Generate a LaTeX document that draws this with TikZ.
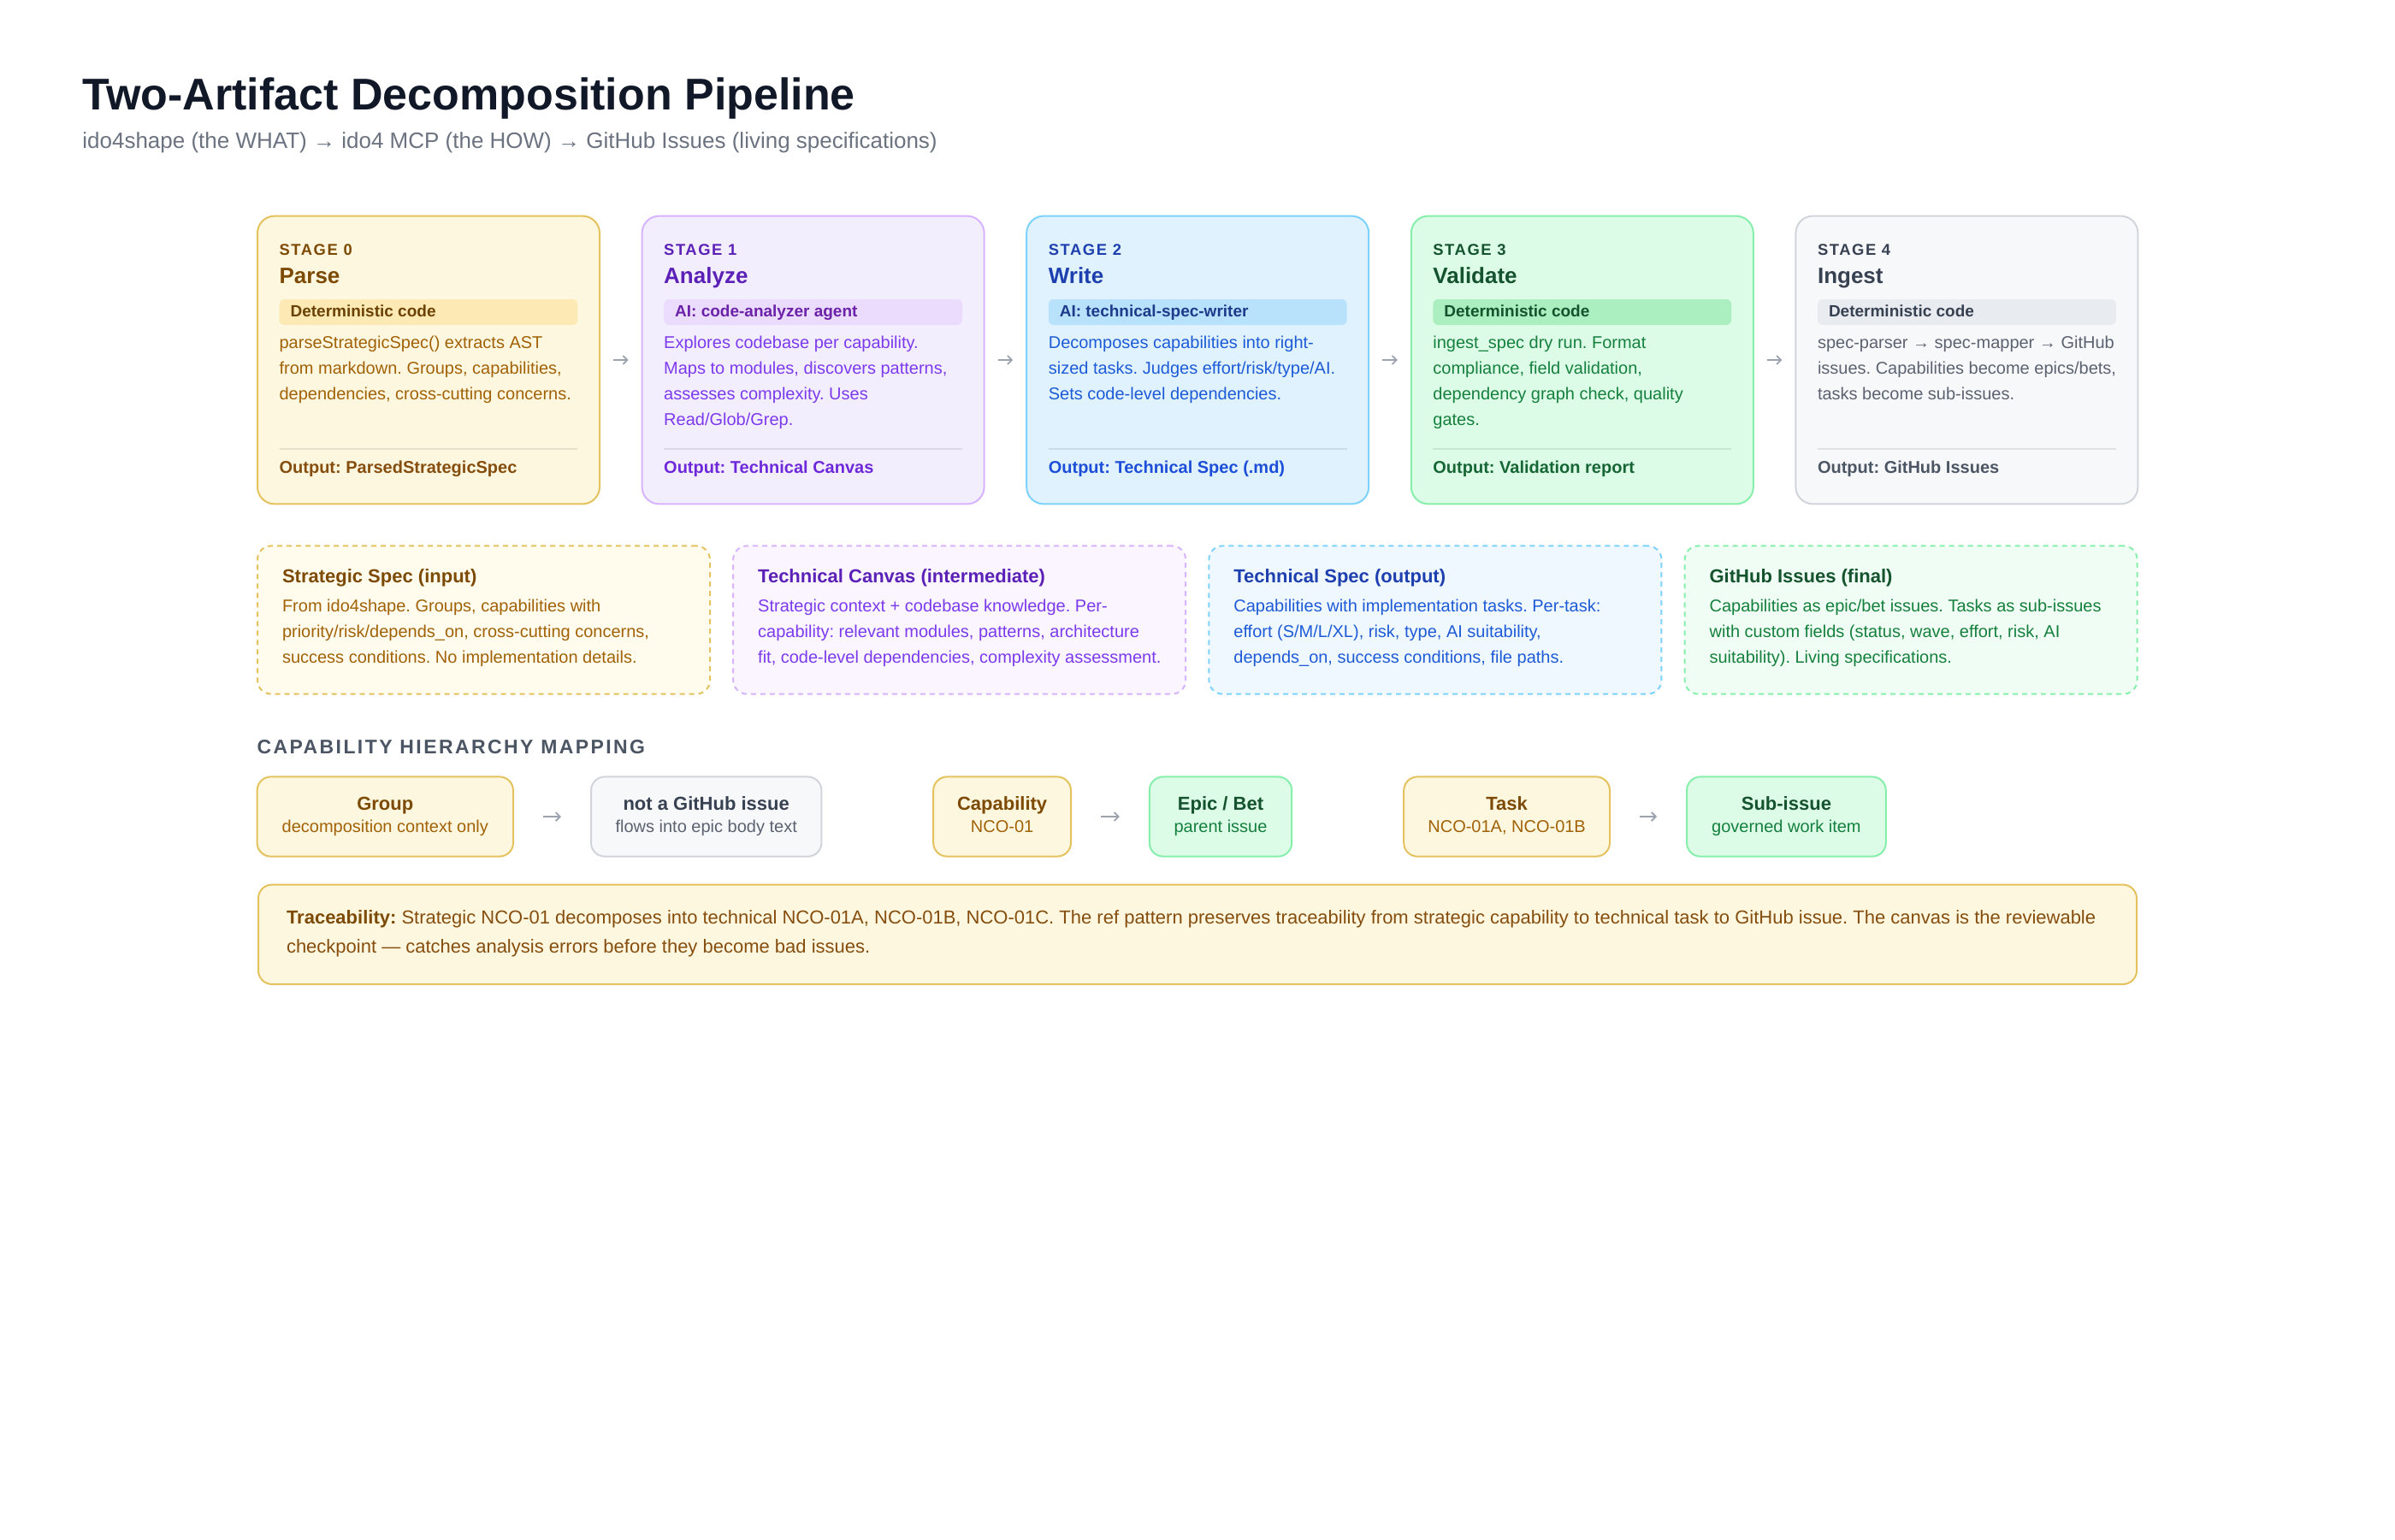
\documentclass[tikz,border=0pt]{standalone}
\usepackage{fontspec}
\setmainfont{Liberation Sans}
\usetikzlibrary{arrows.meta}

\definecolor{Yfill}{HTML}{FEF7DF}\definecolor{Ybd}{HTML}{E4C25E}\definecolor{Ytag}{HTML}{FDE9B3}
\definecolor{Yttl}{HTML}{7C4A03}\definecolor{Ytagt}{HTML}{6B4105}\definecolor{Ybody}{HTML}{A16207}
\definecolor{Yout}{HTML}{854D0E}\definecolor{Yafill}{HTML}{FFFCEE}
\definecolor{Pfill}{HTML}{F3EEFE}\definecolor{Pbd}{HTML}{D8B4FE}\definecolor{Ptag}{HTML}{EBDCFD}
\definecolor{Pttl}{HTML}{5B21B6}\definecolor{Ptagt}{HTML}{6B21A8}\definecolor{Pbody}{HTML}{7C3AED}
\definecolor{Pout}{HTML}{6D28D9}\definecolor{Pafill}{HTML}{FAF5FF}
\definecolor{Bfill}{HTML}{DFF2FE}\definecolor{Bbd}{HTML}{7DD3FC}\definecolor{Btag}{HTML}{B8E2FC}
\definecolor{Bttl}{HTML}{1E40AF}\definecolor{Btagt}{HTML}{1E3A8A}\definecolor{Bbody}{HTML}{1D5BD6}
\definecolor{Bout}{HTML}{1D4ED8}\definecolor{Bafill}{HTML}{F0F8FF}
\definecolor{Gfill}{HTML}{DCFCE7}\definecolor{Gbd}{HTML}{86EFAC}\definecolor{Gtag}{HTML}{ABEEBF}
\definecolor{Gttl}{HTML}{14532D}\definecolor{Gtagt}{HTML}{14532D}\definecolor{Gbody}{HTML}{15803D}
\definecolor{Gout}{HTML}{166534}\definecolor{Gafill}{HTML}{F0FDF4}
\definecolor{Kfill}{HTML}{F7F8FA}\definecolor{Kbd}{HTML}{D1D5DB}\definecolor{Ktag}{HTML}{E8EBEF}
\definecolor{Kttl}{HTML}{374151}\definecolor{Ktagt}{HTML}{374151}\definecolor{Kbody}{HTML}{5B6270}
\definecolor{Kout}{HTML}{4B5563}
\definecolor{titlecol}{HTML}{111827}\definecolor{subcol}{HTML}{6B7280}
\definecolor{seccol}{HTML}{4B5563}\definecolor{arrowgray}{HTML}{9CA3AF}

\newcommand\fTitle{\fontsize{26}{30}\selectfont\bfseries}
\newcommand\fSub{\fontsize{13}{16}\selectfont}
\newcommand\fLab{\fontsize{9.2}{11}\selectfont\bfseries\addfontfeature{LetterSpace=8.5}}
\newcommand\fStT{\fontsize{13}{16}\selectfont\bfseries}
\newcommand\fTag{\fontsize{9.5}{12}\selectfont\bfseries}
\newcommand\fBody{\fontsize{10}{15}\selectfont}
\newcommand\fOut{\fontsize{10}{12}\selectfont\bfseries}
\newcommand\fArtH{\fontsize{11}{13}\selectfont\bfseries}
\newcommand\fSec{\fontsize{11.5}{14}\selectfont\bfseries\addfontfeature{LetterSpace=10.5}}
\newcommand\fHT{\fontsize{11}{13}\selectfont\bfseries}
\newcommand\fHS{\fontsize{10}{12}\selectfont}
\newcommand\fTr{\fontsize{11}{16.7}\selectfont}

\tikzset{
  txt/.style={inner sep=0pt, outer sep=0pt, anchor=base west},
  ctxt/.style={inner sep=0pt, outer sep=0pt, anchor=base},
  stagebox/.style={minimum width=200pt, minimum height=168.4pt, rounded corners=10pt, line width=1pt, inner sep=0pt},
  artbox/.style={minimum width=264.5pt, minimum height=86.6pt, rounded corners=8pt, line width=1pt, dash pattern=on 3pt off 2.5pt, inner sep=0pt},
  hbox/.style={minimum height=46.6pt, rounded corners=8pt, line width=1pt, inner sep=0pt},
  flowarrow/.style={draw=arrowgray, line width=0.9pt, -{Straight Barb[length=2.5pt,width=5pt]}, shorten <=7.5pt, shorten >=7.5pt},
  harrow/.style={draw=arrowgray, line width=0.9pt, -{Straight Barb[length=2.5pt,width=5pt]}, shorten <=17pt, shorten >=17pt},
}

% #1 name, #2 left x, #3 colour prefix, #4 label, #5 title, #6 tag, #7 body lines, #8 output
\newcommand\mkstage[8]{%
  \node[stagebox, draw=#3bd, fill=#3fill] (#1) at (#2+100, 210.5) {};
  \node[txt, text=#3ttl, font=\fLab] (#1-lab) at (#2+12.8, 149.2) {#4};
  \node[txt, text=#3ttl, font=\fStT] (#1-ttl) at (#2+12.8, 165.8) {#5};
  \fill[#3tag, rounded corners=3pt] (#2+12.8, 175) rectangle (#2+187.2, 190);
  \node[txt, text=#3tagt, font=\fTag] (#1-tag) at (#2+19.3, 185) {#6};
  \foreach \ln [count=\k from 0] in {#7} {\node[txt, text=#3body, font=\fBody] (#1-b\k) at (#2+12.8, 203.8+15*\k) {\ln};}
  \draw[black, opacity=0.09, line width=1pt] (#2+12.8, 262.5) -- (#2+187.2, 262.5);
  \node[txt, text=#3out, font=\fOut] (#1-out) at (#2+12.8, 276.7) {#8};
}
% #1 name, #2 left x, #3 colour prefix, #4 heading, #5 lines
\newcommand\mkart[5]{%
  \node[artbox, draw=#3bd, fill=#3afill] (#1) at (#2+132.25, 362.5) {};
  \node[txt, text=#3ttl, font=\fArtH] (#1-h) at (#2+14.5, 340.8) {#4};
  \foreach \ln [count=\k from 0] in {#5} {\node[txt, text=#3body, font=\fBody] (#1-b\k) at (#2+14.5, 357.8+15*\k) {\ln};}
}
% #1 name, #2 left x, #3 width, #4 colour prefix, #5 title, #6 sub
\newcommand\mkh[6]{%
  \node[hbox, draw=#4bd, fill=#4fill, minimum width=#3pt] (#1) at (#2+#3/2, 477.5) {};
  \node[ctxt, text=#4ttl, font=\fHT] (#1-t) at (#2+#3/2, 473.8) {#5};
  \node[ctxt, text=#4body, font=\fHS] (#1-s) at (#2+#3/2, 486.7) {#6};
}

\begin{document}
\frenchspacing
\begin{tikzpicture}[x=1pt, y=-1pt]
\fill[white] (0,0) rectangle (1400,900);
\useasboundingbox (0,0) rectangle (1400,900);

\node[txt, text=titlecol, font=\fTitle] (title) at (48.2, 64.2) {Two-Artifact Decomposition Pipeline};
\node[txt, text=subcol, font=\fSub] (subtitle) at (48.2, 86.7) {ido4shape (the WHAT) → ido4 MCP (the HOW) → GitHub Issues (living specifications)};

\mkstage{s0}{150.5}{Y}{STAGE 0}{Parse}{Deterministic code}%
  {{parseStrategicSpec() extracts AST},{from markdown. Groups, capabilities,},{dependencies, cross-cutting concerns.}}%
  {Output: ParsedStrategicSpec}
\mkstage{s1}{375.3}{P}{STAGE 1}{Analyze}{AI: code-analyzer agent}%
  {{Explores codebase per capability.},{Maps to modules, discovers patterns,},{assesses complexity. Uses},{Read/Glob/Grep.}}%
  {Output: Technical Canvas}
\mkstage{s2}{600.1}{B}{STAGE 2}{Write}{AI: technical-spec-writer}%
  {{Decomposes capabilities into right-},{sized tasks. Judges effort/risk/type/AI.},{Sets code-level dependencies.}}%
  {Output: Technical Spec (.md)}
\mkstage{s3}{824.9}{G}{STAGE 3}{Validate}{Deterministic code}%
  {{ingest\_spec dry run. Format},{compliance, field validation,},{dependency graph check, quality},{gates.}}%
  {Output: Validation report}
\mkstage{s4}{1049.7}{K}{STAGE 4}{Ingest}{Deterministic code}%
  {{spec-parser → spec-mapper → GitHub},{issues. Capabilities become epics/bets,},{tasks become sub-issues.}}%
  {Output: GitHub Issues}

\draw[flowarrow] (s0) -- (s1);
\draw[flowarrow] (s1) -- (s2);
\draw[flowarrow] (s2) -- (s3);
\draw[flowarrow] (s3) -- (s4);

\mkart{a0}{150.5}{Y}{Strategic Spec (input)}%
  {{From ido4shape. Groups, capabilities with},{priority/risk/depends\_on, cross-cutting concerns,},{success conditions. No implementation details.}}
\mkart{a1}{428.6}{P}{Technical Canvas (intermediate)}%
  {{Strategic context + codebase knowledge. Per-},{capability: relevant modules, patterns, architecture},{fit, code-level dependencies, complexity assessment.}}
\mkart{a2}{706.7}{B}{Technical Spec (output)}%
  {{Capabilities with implementation tasks. Per-task:},{effort (S/M/L/XL), risk, type, AI suitability,},{depends\_on, success conditions, file paths.}}
\mkart{a3}{984.8}{G}{GitHub Issues (final)}%
  {{Capabilities as epic/bet issues. Tasks as sub-issues},{with custom fields (status, wave, effort, risk, AI},{suitability). Living specifications.}}

\node[txt, text=seccol, font=\fSec] (sechead) at (150.3, 440.8) {CAPABILITY HIERARCHY MAPPING};

\mkh{h1}{150.3}{149.7}{Y}{Group}{decomposition context only}
\mkh{h2}{345.5}{134.7}{K}{not a GitHub issue}{flows into epic body text}
\mkh{h3}{545.6}{80.4}{Y}{Capability}{NCO-01}
\mkh{h4}{671.9}{83.2}{G}{Epic / Bet}{parent issue}
\mkh{h5}{820.6}{120.4}{Y}{Task}{NCO-01A, NCO-01B}
\mkh{h6}{986}{116.4}{G}{Sub-issue}{governed work item}
\draw[harrow] (h1) -- (h2);
\draw[harrow] (h3) -- (h4);
\draw[harrow] (h5) -- (h6);

\node[draw=Ybd, fill=Yfill, line width=1pt, rounded corners=8pt, minimum width=1098pt, minimum height=58.2pt, inner sep=0pt] (trace) at (700, 546.4) {};
\node[txt, text=Yout, font=\fTr] (tr1) at (167.5, 540.3) {\textcolor{Yttl}{\bfseries Traceability:} Strategic NCO-01 decomposes into technical NCO-01A, NCO-01B, NCO-01C. The ref pattern preserves traceability from strategic capability to technical task to GitHub issue. The canvas is the reviewable};
\node[txt, text=Yout, font=\fTr] (tr2) at (167.5, 557.0) {checkpoint — catches analysis errors before they become bad issues.};
\end{tikzpicture}
\end{document}
